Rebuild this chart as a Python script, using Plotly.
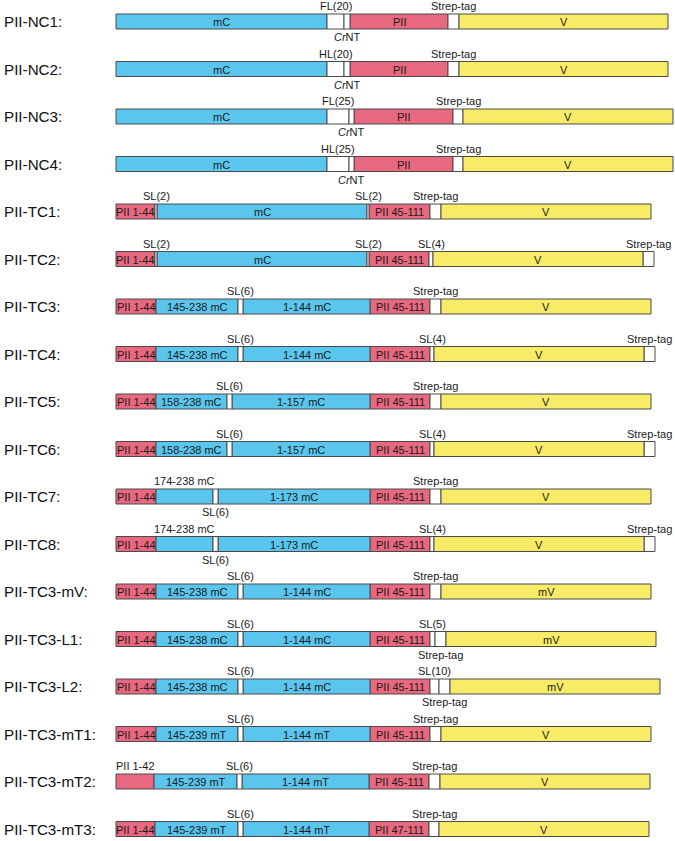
import plotly.graph_objects as go

# ---------------- data ----------------
# each construct: list of (domain kind, length in drawing units, label, label placement)
# kinds: R = PII (red), B = fluorescent protein fragment (blue), W = linker/tag (white), Y = Venus (yellow)
row_names = ["PII-NC1:", "PII-NC2:", "PII-NC3:", "PII-NC4:", "PII-TC1:", "PII-TC2:",
             "PII-TC3:", "PII-TC4:", "PII-TC5:", "PII-TC6:", "PII-TC7:", "PII-TC8:",
             "PII-TC3-mV:", "PII-TC3-L1:", "PII-TC3-L2:", "PII-TC3-mT1:", "PII-TC3-mT2:",
             "PII-TC3-mT3:"]

CRNT = "<i>Cr</i>NT"

PII_NC1 = [("B", 211, "mC", "in"), ("W", 17, "FL(20)", "up"), ("W", 6, CRNT, "down"),
           ("R", 98, "PII", "in"), ("W", 11, "Strep-tag", "up"), ("Y", 209, "V", "in")]
PII_NC2 = [("B", 211, "mC", "in"), ("W", 17, "HL(20)", "up"), ("W", 6, CRNT, "down"),
           ("R", 98, "PII", "in"), ("W", 11, "Strep-tag", "up"), ("Y", 209, "V", "in")]
PII_NC3 = [("B", 211, "mC", "in"), ("W", 22, "FL(25)", "up"), ("W", 5, CRNT, "down"),
           ("R", 99, "PII", "in"), ("W", 10, "Strep-tag", "up"), ("Y", 210, "V", "in")]
PII_NC4 = [("B", 211, "mC", "in"), ("W", 22, "HL(25)", "up"), ("W", 5, CRNT, "down"),
           ("R", 99, "PII", "in"), ("W", 10, "Strep-tag", "up"), ("Y", 210, "V", "in")]
PII_TC1 = [("R", 39, "PII 1-44", "in"), ("W", 2, "SL(2)", "up"), ("B", 210, "mC", "in"),
           ("W", 2, "SL(2)", "up"), ("R", 61, "PII 45-111", "in"), ("W", 11, "Strep-tag", "up"),
           ("Y", 210, "V", "in")]
PII_TC2 = [("R", 39, "PII 1-44", "in"), ("W", 2, "SL(2)", "up"), ("B", 210, "mC", "in"),
           ("W", 2, "SL(2)", "up"), ("R", 60, "PII 45-111", "in"), ("W", 4, "SL(4)", "up"),
           ("Y", 210, "V", "in"), ("W", 11, "Strep-tag", "up")]
PII_TC3 = [("R", 40, "PII 1-44", "in"), ("B", 82, "145-238 mC", "in"), ("W", 5, "SL(6)", "up"),
           ("B", 127, "1-144 mC", "in"), ("R", 60, "PII 45-111", "in"),
           ("W", 11, "Strep-tag", "up"), ("Y", 210, "V", "in")]
PII_TC4 = [("R", 40, "PII 1-44", "in"), ("B", 82, "145-238 mC", "in"), ("W", 5, "SL(6)", "up"),
           ("B", 127, "1-144 mC", "in"), ("R", 60, "PII 45-111", "in"), ("W", 4, "SL(4)", "up"),
           ("Y", 210, "V", "in"), ("W", 11, "Strep-tag", "up")]
PII_TC5 = [("R", 40, "PII 1-44", "in"), ("B", 71, "158-238 mC", "in"), ("W", 5, "SL(6)", "up"),
           ("B", 138, "1-157 mC", "in"), ("R", 60, "PII 45-111", "in"),
           ("W", 11, "Strep-tag", "up"), ("Y", 210, "V", "in")]
PII_TC6 = [("R", 40, "PII 1-44", "in"), ("B", 71, "158-238 mC", "in"), ("W", 5, "SL(6)", "up"),
           ("B", 138, "1-157 mC", "in"), ("R", 60, "PII 45-111", "in"), ("W", 4, "SL(4)", "up"),
           ("Y", 210, "V", "in"), ("W", 11, "Strep-tag", "up")]
PII_TC7 = [("R", 40, "PII 1-44", "in"), ("B", 57, "174-238 mC", "up"), ("W", 5, "SL(6)", "down"),
           ("B", 152, "1-173 mC", "in"), ("R", 60, "PII 45-111", "in"),
           ("W", 11, "Strep-tag", "up"), ("Y", 210, "V", "in")]
PII_TC8 = [("R", 40, "PII 1-44", "in"), ("B", 57, "174-238 mC", "up"), ("W", 5, "SL(6)", "down"),
           ("B", 152, "1-173 mC", "in"), ("R", 60, "PII 45-111", "in"), ("W", 4, "SL(4)", "up"),
           ("Y", 210, "V", "in"), ("W", 11, "Strep-tag", "up")]
PII_TC3_mV = [("R", 40, "PII 1-44", "in"), ("B", 82, "145-238 mC", "in"), ("W", 5, "SL(6)", "up"),
              ("B", 127, "1-144 mC", "in"), ("R", 60, "PII 45-111", "in"),
              ("W", 11, "Strep-tag", "up"), ("Y", 210, "mV", "in")]
PII_TC3_L1 = [("R", 40, "PII 1-44", "in"), ("B", 82, "145-238 mC", "in"), ("W", 5, "SL(6)", "up"),
              ("B", 127, "1-144 mC", "in"), ("R", 60, "PII 45-111", "in"), ("W", 5, "SL(5)", "up"),
              ("W", 11, "Strep-tag", "down"), ("Y", 210, "mV", "in")]
PII_TC3_L2 = [("R", 40, "PII 1-44", "in"), ("B", 82, "145-238 mC", "in"), ("W", 5, "SL(6)", "up"),
              ("B", 127, "1-144 mC", "in"), ("R", 60, "PII 45-111", "in"), ("W", 9, "SL(10)", "up"),
              ("W", 11, "Strep-tag", "down"), ("Y", 210, "mV", "in")]
PII_TC3_mT1 = [("R", 40, "PII 1-44", "in"), ("B", 82, "145-239 mT", "in"), ("W", 5, "SL(6)", "up"),
               ("B", 127, "1-144 mT", "in"), ("R", 60, "PII 45-111", "in"),
               ("W", 11, "Strep-tag", "up"), ("Y", 210, "V", "in")]
PII_TC3_mT2 = [("R", 38, "PII 1-42", "up"), ("B", 83, "145-239 mT", "in"), ("W", 5, "SL(6)", "up"),
               ("B", 127, "1-144 mT", "in"), ("R", 60, "PII 45-111", "in"),
               ("W", 11, "Strep-tag", "up"), ("Y", 210, "V", "in")]
PII_TC3_mT3 = [("R", 39, "PII 1-44", "in"), ("B", 83, "145-239 mT", "in"), ("W", 5, "SL(6)", "up"),
               ("B", 126, "1-144 mT", "in"), ("R", 60, "PII 47-111", "in"),
               ("W", 10, "Strep-tag", "up"), ("Y", 210, "V", "in")]

constructs = [PII_NC1, PII_NC2, PII_NC3, PII_NC4, PII_TC1, PII_TC2, PII_TC3, PII_TC4,
              PII_TC5, PII_TC6, PII_TC7, PII_TC8, PII_TC3_mV, PII_TC3_L1, PII_TC3_L2,
              PII_TC3_mT1, PII_TC3_mT2, PII_TC3_mT3]

# ---------------- style / layout ----------------
W, H = 675, 841
X0 = 116            # x where every construct starts
Y0, DY = 21.5, 47.5  # first row centre and row spacing
BAR_H = 15
COLORS = {"R": "#E8687F", "B": "#5AC6EE", "W": "#FFFFFF", "Y": "#F8EB68"}
EDGE = "#4a4a4a"
FONT = "Arial, 'Liberation Sans', Helvetica, sans-serif"

fig = go.Figure()
annotations = []

bars = {k: {"base": [], "x": [], "y": []} for k in COLORS}
for i, (name, parts) in enumerate(zip(row_names, constructs)):
    yc = Y0 + DY * i
    annotations.append(dict(x=2, y=yc, text=name, xanchor="left", yanchor="middle",
                            showarrow=False, font=dict(size=15.2, color="#111", family=FONT)))
    start = X0
    for kind, length, label, pos in parts:
        bars[kind]["base"].append(start)
        bars[kind]["x"].append(length)
        bars[kind]["y"].append(yc)
        cx = start + length / 2
        if label:
            if pos == "in":
                ly = yc + 0.5
            elif pos == "up":
                ly = yc - 15.5
            else:
                ly = yc + 15.5
            annotations.append(dict(x=cx, y=ly, text=label, xanchor="center", yanchor="middle",
                                    showarrow=False,
                                    font=dict(size=11, color="#1a1a1a", family=FONT)))
        start += length

for kind, d in bars.items():
    fig.add_trace(go.Bar(
        orientation="h", base=d["base"], x=d["x"], y=d["y"], width=BAR_H,
        marker=dict(color=COLORS[kind], line=dict(color=EDGE, width=1)),
        hoverinfo="skip", showlegend=False))

fig.update_layout(
    width=W, height=H, margin=dict(l=0, r=0, t=0, b=0),
    paper_bgcolor="white", plot_bgcolor="white", barmode="overlay",
    xaxis=dict(range=[0, W], visible=False, fixedrange=True),
    yaxis=dict(range=[H, 0], visible=False, fixedrange=True),
    annotations=annotations,
)

fig.write_html("out.html", config={"displayModeBar": False},
               post_script="document.body.style.margin='0';document.body.style.overflow='hidden';")
